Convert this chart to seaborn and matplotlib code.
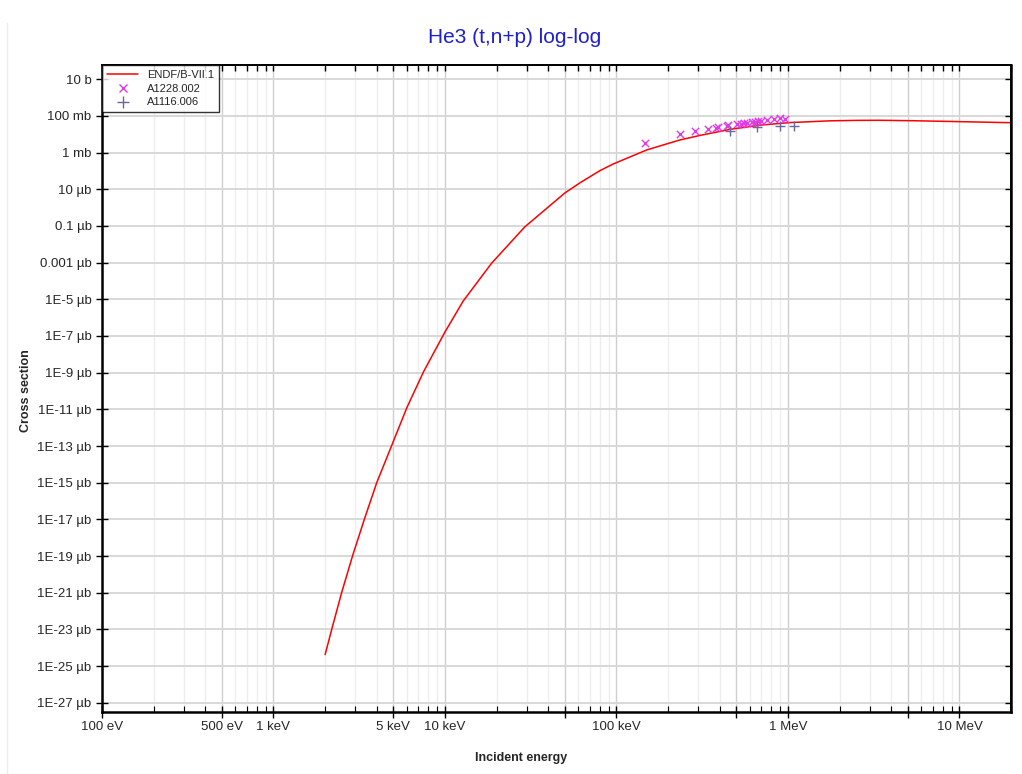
import numpy as np
import pandas as pd
import matplotlib
matplotlib.use("Agg")
import matplotlib.pyplot as plt
import matplotlib.ticker as mticker
from matplotlib.lines import Line2D
import seaborn as sns

# ENDF/B-VII.1 evaluated curve (energy in eV, cross section in barn)
endf_e = [2.0e3, 2.2e3, 2.5e3, 2.9e3, 3.4e3, 4.0e3, 5.0e3, 6.0e3, 7.5e3, 1.0e4,
          1.28e4, 1.87e4, 2.92e4, 5.0e4, 6.12e4, 8.02e4, 9.57e4, 1.50e5, 2.34e5,
          3.07e5, 4.59e5, 6.87e5, 1.03e6, 1.76e6, 2.5e6, 3.44e6, 5.36e6, 1.01e7, 2.0e7]
endf_xs = [4.2e-31, 1.26e-29, 1.05e-27, 1.12e-25, 1.12e-23, 1.0e-21, 1.78e-19,
           1.26e-17, 1.12e-15, 1.66e-13, 8.3e-12, 9.3e-10, 8.9e-8, 6.3e-6, 2.24e-5,
           1.05e-4, 2.4e-4, 1.4e-3, 4.9e-3, 8.7e-3, 1.86e-2, 3.16e-2, 4.37e-2, 5.43e-2,
           5.75e-2, 5.82e-2, 5.5e-2, 4.9e-2, 4.3e-2]

# EXFOR A1228.002
a1228_e = [1.466e5, 2.34e5, 2.87e5, 3.40e5, 3.80e5, 3.92e5, 4.39e5, 4.49e5, 5.06e5,
           5.30e5, 5.54e5, 5.79e5, 6.14e5, 6.42e5, 6.71e5, 6.96e5, 7.52e5, 8.32e5,
           8.98e5, 9.61e5]
a1228_xs = [3.49e-3, 1.0e-2, 1.58e-2, 1.95e-2, 2.3e-2, 2.4e-2, 2.95e-2, 3.2e-2, 3.5e-2,
            3.66e-2, 4.0e-2, 4.3e-2, 4.7e-2, 4.9e-2, 5.3e-2, 5.55e-2, 5.8e-2, 6.8e-2,
            7.5e-2, 7.2e-2]

# EXFOR A1116.006
a1116_e = [4.59e5, 6.62e5, 8.98e5, 1.084e6]
a1116_xs = [1.52e-2, 2.6e-2, 2.84e-2, 2.95e-2]

x_major = [1e2, 5e2, 1e3, 5e3, 1e4, 5e4, 1e5, 5e5, 1e6, 5e6, 1e7]
x_labels = {1e2: "100 eV", 5e2: "500 eV", 1e3: "1 keV", 5e3: "5 keV", 1e4: "10 keV",
            1e5: "100 keV", 1e6: "1 MeV", 1e7: "10 MeV"}
y_ticks = [10.0 ** k for k in range(1, -34, -2)]
y_labels = ["10 b", "100 mb", "1 mb", "10 µb", "0.1 µb", "0.001 µb"] + \
           ["1E-%d µb" % n for n in range(5, 28, 2)]

endf = pd.DataFrame({"E": endf_e, "xs": endf_xs})
d1228 = pd.DataFrame({"E": a1228_e, "xs": a1228_xs})
d1116 = pd.DataFrame({"E": a1116_e, "xs": a1116_xs})

sns.set_style("white")
plt.rcParams["font.family"] = ["Liberation Sans", "DejaVu Sans"]

fig = plt.figure(figsize=(10.22, 7.74), dpi=100)
ax = fig.add_axes([0.0998, 0.0805, 0.8895, 0.836])

ax.set_xscale("log")
ax.set_yscale("log")

sns.lineplot(data=endf, x="E", y="xs", ax=ax, color="#ff0000", lw=1.1, legend=False)
sns.scatterplot(data=d1228, x="E", y="xs", ax=ax, marker="x", color="#e238e8",
                s=28, linewidth=1.0, legend=False, zorder=4)
sns.scatterplot(data=d1116, x="E", y="xs", ax=ax, marker="+", color="#6868a0",
                s=50, linewidth=1.0, legend=False, zorder=4)

ax.set_xlim(100, 2.0e7)
ax.set_ylim(10 ** -33.49, 10 ** 1.8)

# x ticks
ax.xaxis.set_major_locator(mticker.FixedLocator(x_major))
ax.xaxis.set_major_formatter(mticker.FixedFormatter([x_labels.get(v, "") for v in x_major]))
ax.xaxis.set_minor_locator(mticker.LogLocator(base=10, subs=[2, 3, 4, 6, 7, 8, 9], numticks=20))
ax.xaxis.set_minor_formatter(mticker.NullFormatter())

# y ticks
ax.yaxis.set_major_locator(mticker.FixedLocator(y_ticks))
ax.yaxis.set_major_formatter(mticker.FixedFormatter(y_labels))
ax.yaxis.set_minor_locator(mticker.NullLocator())

ax.tick_params(axis="both", which="major", labelsize=9.5, color="black", width=1.0,
               bottom=True, left=True, top=False, right=False, direction="inout", length=8)
ax.tick_params(axis="x", which="minor", bottom=True, top=False, direction="in", length=4,
               width=0.8, color="black")
ax.tick_params(axis="x", which="major", pad=3)

# inward ticks on top and right spines
top = ax.secondary_xaxis("top")
top.set_zorder(3)
top.xaxis.set_major_locator(mticker.FixedLocator(x_major))
top.xaxis.set_minor_locator(mticker.LogLocator(base=10, subs=[2, 3, 4, 6, 7, 8, 9], numticks=20))
top.xaxis.set_major_formatter(mticker.NullFormatter())
top.xaxis.set_minor_formatter(mticker.NullFormatter())
top.tick_params(which="both", top=True, direction="in", length=4, width=1.0, color="black")
top.spines["top"].set_linewidth(1.3)
top.spines["top"].set_color("black")

right = ax.secondary_yaxis("right")
right.set_zorder(3)
right.yaxis.set_major_locator(mticker.FixedLocator(y_ticks))
right.yaxis.set_minor_locator(mticker.NullLocator())
right.yaxis.set_major_formatter(mticker.NullFormatter())
right.tick_params(which="both", right=True, direction="in", length=4, width=1.0, color="black")
right.spines["right"].set_linewidth(1.8)
right.spines["right"].set_color("black")

ax.grid(True, which="major", axis="x", color="#cfcfcf", lw=1.0)
ax.grid(True, which="minor", axis="x", color="#eeeeee", lw=1.0)
ax.grid(True, which="major", axis="y", color="#d8d8d8", lw=1.4)
ax.set_axisbelow(True)

for side in ["left", "bottom"]:
    ax.spines[side].set_linewidth(1.8)
for side in ["top", "right"]:
    ax.spines[side].set_linewidth(1.3)
for sp in ax.spines.values():
    sp.set_color("black")

ax.set_xlabel("")
ax.set_ylabel("")

handles = [
    Line2D([], [], color="#ff0000", lw=1.1),
    Line2D([], [], color="#e238e8", marker="x", ls="none", markersize=5.5),
    Line2D([], [], color="#6868a0", marker="+", ls="none", markersize=8),
]
leg = ax.legend(handles, ["ENDF/B-VII.1", "A1228.002", "A1116.006"], loc="upper left",
                bbox_to_anchor=(0.0, 1.0), fontsize=8, frameon=True, fancybox=False,
                borderaxespad=0.0, handlelength=2.8, labelspacing=0.35, borderpad=0.45,
                handletextpad=0.8)
leg.get_frame().set_edgecolor("black")
leg.get_frame().set_linewidth(1.0)
leg.set_zorder(10)

fig.text(0.504, 0.952, "He3 (t,n+p) log-log", ha="center", va="center", fontsize=15,
         color="#1f1fcc")
fig.text(0.51, 0.021, "Incident energy", ha="center", va="center", fontsize=9,
         fontweight="bold")
fig.text(0.025, 0.495, "Cross section", ha="center", va="center", rotation=90,
         fontsize=9, fontweight="bold")

fig.add_artist(Line2D([0.007, 0.007], [0.0, 0.97], transform=fig.transFigure,
                      color="#eeeeee", lw=1.0))

fig.savefig("out.png", dpi=100)
